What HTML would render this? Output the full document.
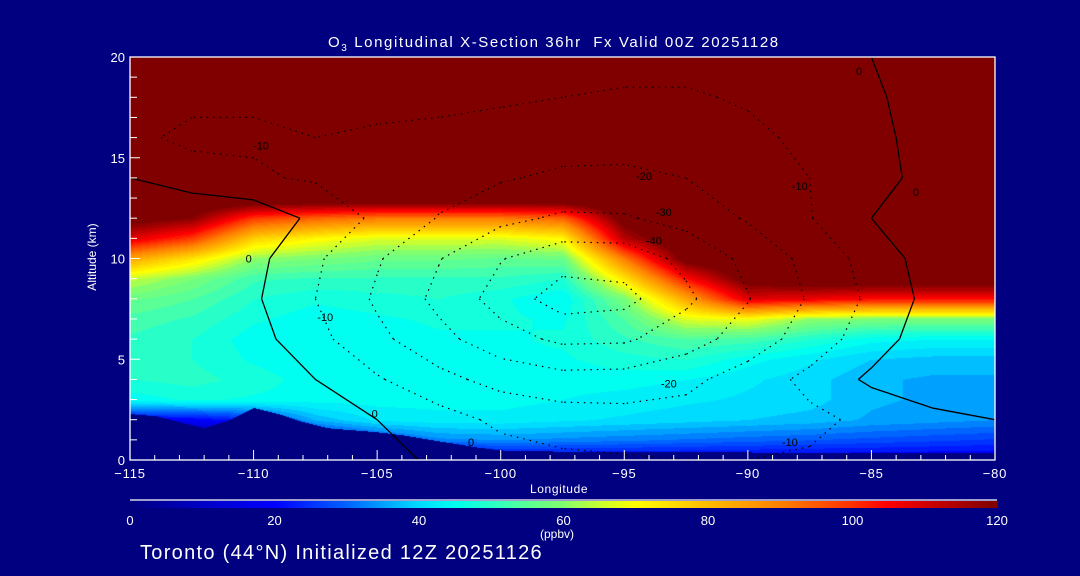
<!DOCTYPE html>
<html><head><meta charset="utf-8"><style>
body{margin:0;background:#000080;}
#wrap{position:relative;width:1080px;height:576px;background:#000080;overflow:hidden;font-family:"Liberation Sans",sans-serif;color:#fff;}
.t{position:absolute;font-size:13px;color:#fff;white-space:nowrap;}
canvas{position:absolute;}
svg{position:absolute;left:0;top:0;}
</style></head><body>
<div id="wrap">
<div class="t" style="left:328px;top:34px;font-size:15px;letter-spacing:1.6px;">O<sub style="font-size:10px">3</sub> Longitudinal X-Section 36hr&nbsp; Fx Valid 00Z 20251128</div>
<canvas id="field" width="865" height="403" style="left:130px;top:57px"></canvas>
<canvas id="cbar" width="868" height="7" style="left:130px;top:501px"></canvas>
<svg id="ov" width="1080" height="576"></svg>
<div class="t" style="left:530px;top:482px;font-size:12px;letter-spacing:0.6px;">Longitude</div>
<div class="t" style="left:52px;top:250px;font-size:12px;transform:rotate(-90deg);transform-origin:center;width:80px;text-align:center;">Altitude (km)</div>
<div class="t" style="left:540px;top:527px;font-size:12px;">(ppbv)</div>
<div class="t" style="left:140px;top:542px;font-size:20px;letter-spacing:1.3px;">Toronto (44°N) Initialized 12Z 20251126</div>
</div>
<script>
const lons=[-115,-112.5,-110,-107.5,-105,-102.5,-100,-97.5,-95,-92.5,-90,-87.5,-85,-82.5,-80];
// ozone rows z=20 down to z=0 (1 km)
const ozone=[
[130,130,130,130,130,130,130,130,130,130,130,130,130,130,130],
[130,130,130,130,130,130,130,130,130,130,130,130,130,130,130],
[130,130,130,130,130,130,130,130,130,130,130,130,130,130,130],
[130,130,130,130,130,130,130,130,130,130,130,130,130,130,130],
[130,130,130,130,130,130,130,130,130,130,130,130,130,130,130],
[130,130,130,130,130,130,130,130,130,130,130,130,130,130,130],
[130,130,130,130,130,130,130,130,130,130,130,130,130,130,130],
[130,130,130,130,130,130,130,130,130,130,130,130,130,130,130],
[125,120,100,95,92,92,92,95,125,130,130,130,130,130,130],
[110,100,78,72,68,68,68,72,115,130,130,130,130,130,130],
[85,75,62,60,58,58,57,58,92,125,130,130,130,130,130],
[66,60,53,52,52,52,52,50,75,105,125,128,128,128,128],
[58,55,50,48,49,50,48,45,60,85,110,108,105,105,105],
[54,52,48,46,47,48,48,47,55,68,70,62,60,60,60],
[52,50,46,45,46,47,47,48,52,55,54,50,46,45,45],
[51,50,47,45,46,47,47,47,49,50,46,43,40,39,39],
[50,51,49,46,46,47,47,46,46,45,43,41,38,37,37],
[46,48,47,46,46,46,46,45,44,43,42,41,38,37,36],
[20,20,25,38,43,44,44,43,42,41,40,39,37,36,35],
[0,0,0,20,28,34,35,34,33,32,31,30,29,28,27],
[0,0,0,0,0,10,18,18,18,18,18,18,18,18,18]];
// anomaly rows z=20,18,...,0
const anomaly=[
[-3,-5,-6,-6,-6,-6,-6,-7,-7,-7,-6,-3,0,2,3],
[-5,-8,-9,-8,-8,-8,-9,-10,-11,-11,-9,-6,-1,3,4],
[-8,-12,-11,-10,-11,-12,-13,-15,-16,-15,-12,-8,-2,3,5],
[0,-6,-9,-11,-13,-16,-19,-22,-22,-20,-14,-10,-3,3,5],
[10,10,7.5,-2.5,-12,-20.5,-27.5,-31.5,-31,-26.5,-19,-10.5,0,10,10],
[10,10,3,-8.5,-19,-29.5,-39.5,-46,-45.5,-37.5,-27.5,-17,-6,5,10],
[10,10,1.5,-10,-21.5,-32.5,-44,-55,-53,-42,-30.5,-19,-8,3.5,10],
[10,10,4,-7,-17.5,-27,-36,-42,-41.5,-34.5,-25.5,-15.5,-5,6,10],
[10,10,10,0,-9,-17,-23.5,-26.5,-26,-22.5,-15.5,-7.5,2,10,10],
[10,10,10,8,0,-6,-12,-15,-16,-16,-14,-12,-8,-4,0],
[10,10,10,10,4,-2,-6,-8,-9,-10,-10,-9,-6,-3,0]];
const levels=[-60,-50,-40,-30,-20,-10,0];
const terrainLon=[-115,-114,-113,-112,-111,-110,-109,-108,-107,-106,-105,-104,-103,-102,-101,-100,-99,-98,-97,-96,-95,-94,-93,-92,-91,-90,-89,-88,-87,-86,-85,-84,-83,-82,-81,-80];
const terrainKm=[2.3,2.2,1.9,1.6,2.0,2.6,2.3,1.9,1.6,1.5,1.4,1.25,1.05,0.85,0.65,0.5,0.45,0.45,0.42,0.4,0.4,0.4,0.4,0.4,0.4,0.4,0.38,0.38,0.38,0.38,0.38,0.36,0.36,0.36,0.35,0.35];
const xTicks=[-115,-110,-105,-100,-95,-90,-85,-80];
const yTicks=[0,5,10,15,20];
const cbTicks=[0,20,40,60,80,100,120];
const contourLabels=[[-10,-109.7,15.6],[-10,-87.9,13.6],[-20,-94.2,14.1],[-30,-93.4,12.3],[-40,-93.8,10.9],[-10,-107.1,7.1],[-20,-93.2,3.8],[-10,-88.3,0.9],[0,-110.2,10.0],[0,-105.1,2.3],[0,-101.2,0.9],[0,-85.5,19.3],[0,-83.2,13.3]];

const X0=130,X1=995,Y0=460,Y1=57;
const X=l=>X0+(l+115)/35*(X1-X0);
const Y=z=>Y0-z/20*(Y0-Y1);
const stops=[[0,0,0,128],[10,0,0,200],[20,0,0,255],[30,0,100,255],[40,0,220,255],[45,0,255,240],[50,40,255,200],[55,90,255,150],[60,130,255,110],[65,200,255,50],[70,255,255,0],[80,255,190,0],[90,255,130,0],[100,255,50,0],[105,255,0,0],[120,128,0,0]];
function cmap(v){v=Math.max(0,Math.min(120,v));for(let i=1;i<stops.length;i++){if(v<=stops[i][0]){const a=stops[i-1],b=stops[i],t=(v-a[0])/(b[0]-a[0]);return [a[1]+(b[1]-a[1])*t,a[2]+(b[2]-a[2])*t,a[3]+(b[3]-a[3])*t];}}return [128,0,0];}
function terr(l){const i=Math.min(terrainLon.length-2,Math.max(0,Math.floor(l+115)));const t=(l-terrainLon[i]);return terrainKm[i]+(terrainKm[i+1]-terrainKm[i])*t;}
function oz(l,z){let fx=(l+115)/2.5,fy=20-z;let i=Math.min(13,Math.max(0,Math.floor(fx))),j=Math.min(19,Math.max(0,Math.floor(fy)));let tx=fx-i,ty=fy-j;
 const a=ozone[j][i],b=ozone[j][i+1],c=ozone[j+1][i],d=ozone[j+1][i+1];return (a*(1-tx)+b*tx)*(1-ty)+(c*(1-tx)+d*tx)*ty;}
const cv=document.getElementById('field'),ctx=cv.getContext('2d');const img=ctx.createImageData(865,403);
for(let py=0;py<403;py++){const z=(Y0-(py+57))/(Y0-Y1)*20;for(let px=0;px<865;px++){const l=-115+px/865*35;let col;
 if(z<terr(l))col=[0,0,128];else{let v=oz(l,z);v=Math.floor(v/2.5)*2.5;col=cmap(v);}
 const k=(py*865+px)*4;img.data[k]=col[0];img.data[k+1]=col[1];img.data[k+2]=col[2];img.data[k+3]=255;}}
ctx.putImageData(img,0,0);
const cb=document.getElementById('cbar').getContext('2d');
for(let px=0;px<868;px++){const c=cmap(px/865*120);cb.fillStyle=`rgb(${c[0]|0},${c[1]|0},${c[2]|0})`;cb.fillRect(px,0,1,7);}
const NS='http://www.w3.org/2000/svg',sv=document.getElementById('ov');
function mk(tag,attrs,parent){const e=document.createElementNS(NS,tag);for(const k in attrs)e.setAttribute(k,attrs[k]);(parent||sv).appendChild(e);return e;}
const gC=document.createElementNS(NS,'g');sv.appendChild(gC);
const az=i=>20-2*i;
levels.forEach(lv=>{let d='';
 for(let j=0;j<anomaly.length-1;j++)for(let i=0;i<lons.length-1;i++){
  const c=[[lons[i],az(j),anomaly[j][i]],[lons[i+1],az(j),anomaly[j][i+1]],[lons[i+1],az(j+1),anomaly[j+1][i+1]],[lons[i],az(j+1),anomaly[j+1][i]]];
  const pts=[];for(let e=0;e<4;e++){const p=c[e],q=c[(e+1)%4];if((p[2]<lv)!==(q[2]<lv)){const t=(lv-p[2])/(q[2]-p[2]);pts.push([p[0]+(q[0]-p[0])*t,p[1]+(q[1]-p[1])*t]);}}
  for(let k=0;k+1<pts.length;k+=2)d+=`M${X(pts[k][0]).toFixed(1)},${Y(pts[k][1]).toFixed(1)}L${X(pts[k+1][0]).toFixed(1)},${Y(pts[k+1][1]).toFixed(1)}`;}
 const p=mk('path',{d:d,fill:'none',stroke:'#000','stroke-width':lv===0?1.3:1.2,'stroke-dasharray':lv===0?'none':'1.5 5'},gC);
 
 
});
contourLabels.forEach(c=>{const t=mk('text',{x:X(c[1]),y:Y(c[2])+4,'font-size':11,'text-anchor':'middle',fill:'#000','font-family':'Liberation Sans, sans-serif'},gC);t.textContent=c[0];
 
 });
const fr=mk('rect',{x:X0,y:Y1,width:X1-X0,height:Y0-Y1,fill:'none',stroke:'#fff','stroke-width':1.3});


const ax=document.createElementNS(NS,'g');sv.appendChild(ax);
for(let l=-115;l<=-80;l++){const maj=(l%5===0);mk('line',{x1:X(l),x2:X(l),y1:Y0,y2:Y0-(maj?10:5),stroke:'#fff'},ax);}
for(let z=0;z<=20;z++){const maj=(z%5===0);mk('line',{x1:X0,x2:X0+(maj?10:7),y1:Y(z),y2:Y(z),stroke:'#fff'},ax);}
xTicks.forEach(l=>{const t=mk('text',{x:X(l),y:478,'font-size':13,fill:'#fff','text-anchor':'middle','font-family':'Liberation Sans, sans-serif','letter-spacing':'0.8'},ax);t.textContent=(l<0?'\u2212'+(-l):l);
 
 });
yTicks.forEach(z=>{const t=mk('text',{x:125,y:Y(z)+5,'font-size':13,fill:'#fff','text-anchor':'end','font-family':'Liberation Sans, sans-serif'},ax);t.textContent=z;
 
 });
mk('line',{x1:130,x2:997,y1:500,y2:500,stroke:'#fff','stroke-width':1.3},ax);
cbTicks.forEach(v=>{const t=mk('text',{x:130+v/120*867,y:525,'font-size':13,fill:'#fff','text-anchor':'middle','font-family':'Liberation Sans, sans-serif'},ax);t.textContent=v;
 
 });
</script>
</body></html>
